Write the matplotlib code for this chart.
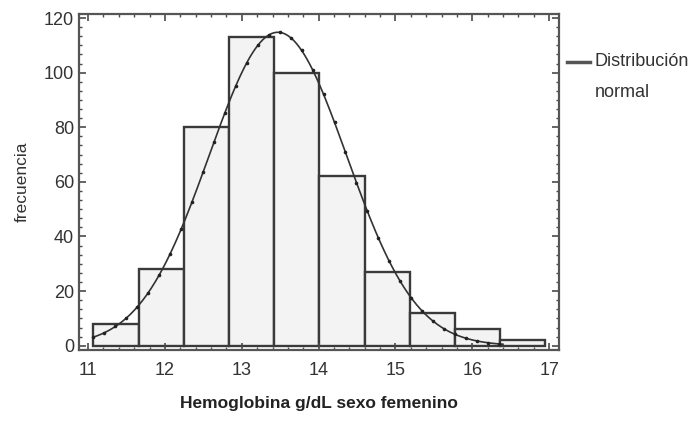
import numpy as np
import matplotlib.pyplot as plt
from matplotlib.lines import Line2D
from matplotlib.ticker import MultipleLocator

# datos del histograma
bordes = [11.07, 11.658, 12.246, 12.834, 13.422, 14.01, 14.598, 15.186, 15.774, 16.362, 16.95]
frecuencias = [8, 28, 80, 113, 100, 62, 27, 12, 6, 2]

# parámetros de la distribución normal ajustada
media = 13.47
desv = 0.895

plt.rcParams['font.family'] = ['Liberation Sans', 'DejaVu Sans']

fig = plt.figure(figsize=(6.98, 4.24), dpi=100)
ax = fig.add_axes([0.113, 0.175, 0.688, 0.792])

gris = '#4a4a4a'
ancho = np.diff(bordes)
ax.bar(bordes[:-1], frecuencias, width=ancho, align='edge',
       color='#f3f3f3', edgecolor='#3a3a3a', linewidth=1.7)

# curva normal escalada al histograma
n_total = sum(frecuencias)
xs = np.linspace(bordes[0], bordes[-1] - 0.55, 300)
ys = n_total * ancho.mean() / (desv * np.sqrt(2 * np.pi)) * np.exp(-0.5 * ((xs - media) / desv) ** 2)
ax.plot(xs, ys, color='#333333', linewidth=1.2)
ax.plot(xs[::8], ys[::8], linestyle='none', marker='o', markersize=1.6, color='#222222')

ax.set_xlim(10.88, 17.13)
ax.set_ylim(-1.5, 121.5)
ax.xaxis.set_major_locator(MultipleLocator(1))
ax.xaxis.set_minor_locator(MultipleLocator(0.2))
ax.yaxis.set_major_locator(MultipleLocator(20))
ax.yaxis.set_minor_locator(MultipleLocator(20 / 6))

ax.tick_params(which='both', direction='in', top=True, right=True, color=gris,
               labelsize=13, labelcolor='#333333')
ax.tick_params(which='major', length=5, width=1.2)
ax.tick_params(which='minor', length=2.5, width=1.0)
ax.tick_params(axis='x', which='major', pad=9)
for s in ax.spines.values():
    s.set_color('#555555')
    s.set_linewidth(1.6)

ax.set_xlabel('Hemoglobina g/dL sexo femenino', fontsize=12.5, fontweight='bold',
              color='#222222', labelpad=12)
ax.set_ylabel('frecuencia', fontsize=12.5, color='#333333', labelpad=10)

# leyenda: la línea queda a la altura de la primera línea del texto
fig.add_artist(Line2D([0.812, 0.845], [0.854, 0.854], transform=fig.transFigure,
                      color='#555555', linewidth=2.5))
fig.text(0.852, 0.854, 'Distribución', fontsize=13, color='#333333', va='center')
fig.text(0.852, 0.783, 'normal', fontsize=13, color='#333333', va='center')

fig.savefig('out.png', dpi=100)
